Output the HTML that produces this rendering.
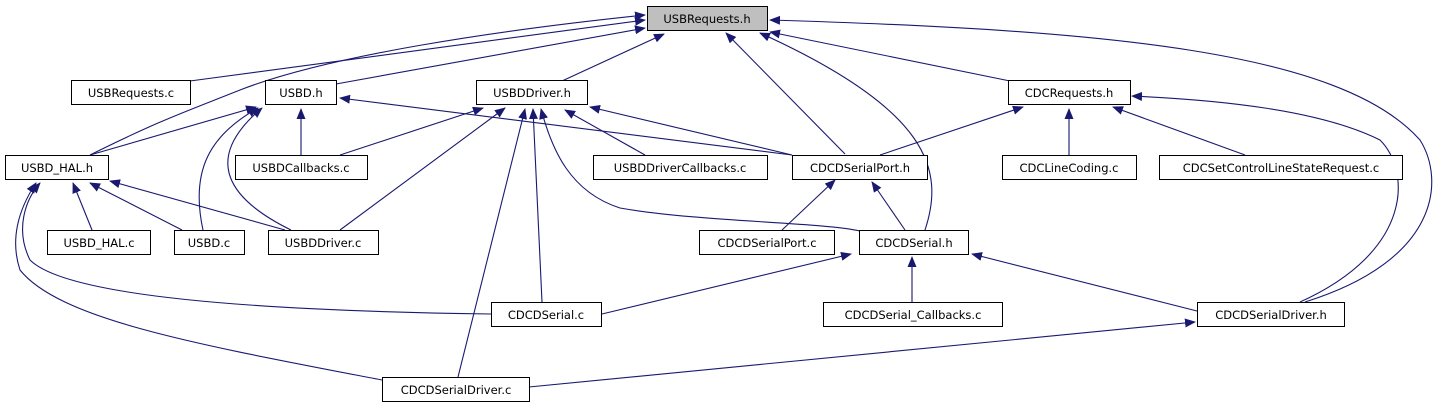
<!DOCTYPE html>
<html><head><meta charset="utf-8"><style>
html,body{margin:0;padding:0;background:#fff;}
svg text{font-family:"DejaVu Sans","Liberation Sans",sans-serif;font-size:11.5px;fill:#000;text-anchor:middle;}
</style></head><body>
<svg width="1451" height="411" viewBox="0 0 1451 411" xmlns="http://www.w3.org/2000/svg">
<defs><marker id="a" markerWidth="11" markerHeight="9" refX="10" refY="4.5" orient="auto" markerUnits="userSpaceOnUse"><path d="M0,0 L11,4.5 L0,9 z" fill="#191970"/></marker></defs>
<g fill="none" stroke="#191970" stroke-width="1.1" marker-end="url(#a)">
<path d="M190,81 L645,20"/>
<path d="M90,155 C160,120 190,110 240,90 C330,55 500,30 645,15"/>
<path d="M336,84 L645,28"/>
<path d="M562,81 L664,34"/>
<path d="M845,154 L726,33"/>
<path d="M925,230 C945,170 930,110 760,33"/>
<path d="M1010,81 L770,32"/>
<path d="M1305,302 C1440,260 1445,180 1420,140 C1340,50 1100,30 770,20"/>
<path d="M90,155 L256,107"/>
<path d="M301,155 L301,109"/>
<path d="M203,230 C190,170 210,135 258,108"/>
<path d="M291,230 C230,200 200,160 262,108"/>
<path d="M792,155 L340,98"/>
<path d="M340,155 L483,108"/>
<path d="M340,230 L505,108"/>
<path d="M645,155 L565,110"/>
<path d="M792,155 L590,107"/>
<path d="M542,302 L533,109"/>
<path d="M458,377 L525,109"/>
<path d="M860,231 C820,222 700,222 620,208 C570,192 552,150 541,109"/>
<path d="M92,230 L73,183"/>
<path d="M182,230 L90,183"/>
<path d="M285,230 L110,181"/>
<path d="M491,314 C200,310 60,290 30,260 C15,230 25,200 40,183"/>
<path d="M382,380 C200,345 60,320 20,270 C10,240 18,210 36,183"/>
<path d="M880,155 L1023,107"/>
<path d="M1069,155 L1069,109"/>
<path d="M1245,155 L1113,107"/>
<path d="M1300,302 C1415,250 1410,170 1380,140 C1320,110 1220,100 1132,96"/>
<path d="M782,230 L835,180"/>
<path d="M905,230 L872,182"/>
<path d="M602,314 L851,254"/>
<path d="M912,302 L912,257"/>
<path d="M1197,311 L972,254"/>
<path d="M529,387 L1195,322"/>
</g>
<g stroke="#000" stroke-width="1" fill="#fff">
<rect x="647.5" y="6.5" width="120" height="24" fill="#bfbfbf"/>
<rect x="71.5" y="80.5" width="119" height="24"/>
<rect x="265.5" y="80.5" width="71" height="24"/>
<rect x="476.5" y="80.5" width="111" height="24"/>
<rect x="1008.5" y="80.5" width="122" height="24"/>
<rect x="5.5" y="155.5" width="103" height="24"/>
<rect x="235.5" y="155.5" width="132" height="24"/>
<rect x="593.5" y="155.5" width="174" height="24"/>
<rect x="792.5" y="155.5" width="135" height="24"/>
<rect x="1002.5" y="155.5" width="134" height="24"/>
<rect x="1159.5" y="155.5" width="243" height="24"/>
<rect x="47.5" y="230.5" width="103" height="24"/>
<rect x="174.5" y="230.5" width="70" height="24"/>
<rect x="268.5" y="230.5" width="110" height="24"/>
<rect x="699.5" y="230.5" width="135" height="24"/>
<rect x="859.5" y="230.5" width="109" height="24"/>
<rect x="491.5" y="302.5" width="110" height="24"/>
<rect x="823.5" y="302.5" width="179" height="24"/>
<rect x="1197.5" y="302.5" width="147" height="24"/>
<rect x="382.5" y="377.5" width="147" height="24"/>
</g>
<g>
<text x="707" y="23">USBRequests.h</text>
<text x="131" y="97">USBRequests.c</text>
<text x="301" y="97">USBD.h</text>
<text x="532" y="97">USBDDriver.h</text>
<text x="1069" y="97">CDCRequests.h</text>
<text x="57" y="172">USBD_HAL.h</text>
<text x="301" y="172">USBDCallbacks.c</text>
<text x="680" y="172">USBDDriverCallbacks.c</text>
<text x="860" y="172">CDCDSerialPort.h</text>
<text x="1069" y="172">CDCLineCoding.c</text>
<text x="1281" y="172">CDCSetControlLineStateRequest.c</text>
<text x="99" y="247">USBD_HAL.c</text>
<text x="209" y="247">USBD.c</text>
<text x="323" y="247">USBDDriver.c</text>
<text x="767" y="247">CDCDSerialPort.c</text>
<text x="914" y="247">CDCDSerial.h</text>
<text x="546" y="319">CDCDSerial.c</text>
<text x="913" y="319">CDCDSerial_Callbacks.c</text>
<text x="1271" y="319">CDCDSerialDriver.h</text>
<text x="456" y="394">CDCDSerialDriver.c</text>
</g>
</svg>
</body></html>
